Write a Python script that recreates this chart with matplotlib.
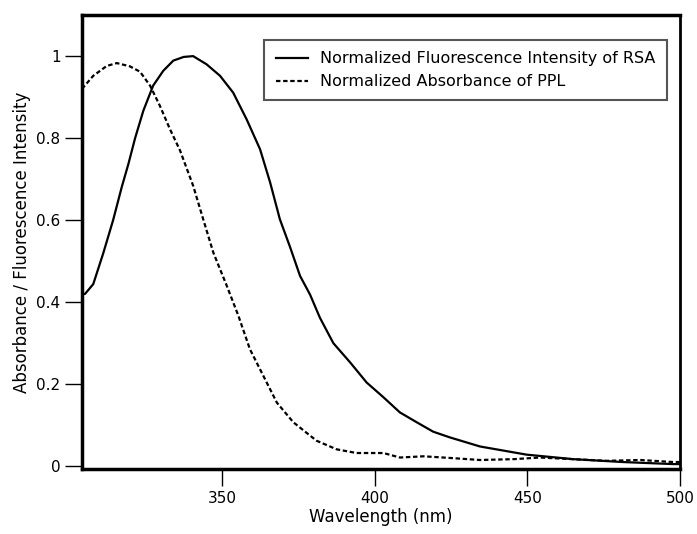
import matplotlib
matplotlib.use("Agg")
import matplotlib.pyplot as plt

# Normalized fluorescence intensity of RSA (solid)
wl_rsa = [304.2, 305.2, 307.9, 311.2, 314.4, 317.2, 319.4, 321.6, 324.3, 327.5, 330.8,
          334.1, 337.5, 340.6, 345.0, 349.4, 353.7, 358.1, 362.5, 365.8, 369.0, 372.3,
          375.6, 378.9, 382.1, 386.5, 392.0, 397.4, 402.9, 408.3, 413.8, 419.2, 424.7,
          434.5, 449.8, 465.1, 481.3, 497.8, 500]
fl_rsa = [0.42, 0.42, 0.444, 0.52, 0.60, 0.68, 0.737, 0.80, 0.867, 0.928, 0.964,
          0.989, 0.998, 1.0, 0.98, 0.952, 0.911, 0.846, 0.773, 0.692, 0.602, 0.535,
          0.464, 0.418, 0.362, 0.30, 0.253, 0.204, 0.168, 0.131, 0.107, 0.084, 0.07,
          0.048, 0.028, 0.017, 0.01, 0.005, 0.005]

# Normalized absorbance of PPL (dashed)
wl_ppl = [304.2, 307.9, 312.3, 315.6, 319.9, 323.2, 326.5, 329.7, 333.0, 336.3, 340.6,
          343.9, 347.2, 351.6, 355.4, 359.2, 363.6, 368.0, 373.4, 381.0, 387.6, 394.1,
          402.9, 408.3, 416.0, 424.7, 434.5, 445.4, 454.2, 465.0, 476.0, 487.0, 497.8, 500]
ab_ppl = [0.92, 0.952, 0.976, 0.983, 0.975, 0.962, 0.928, 0.879, 0.822, 0.77, 0.684,
          0.602, 0.521, 0.44, 0.367, 0.285, 0.22, 0.155, 0.107, 0.062, 0.041, 0.032,
          0.032, 0.021, 0.024, 0.02, 0.015, 0.017, 0.021, 0.017, 0.013, 0.015, 0.01, 0.01]

fig = plt.figure(figsize=(6.97, 5.34), dpi=100)
ax = fig.add_axes([0.1176, 0.1217, 0.858, 0.850])

ax.plot(wl_rsa, fl_rsa, color="black", lw=1.6,
        label="Normalized Fluorescence Intensity of RSA")
ax.plot(wl_ppl, ab_ppl, color="black", lw=1.6, linestyle=(0, (2, 1.2)),
        label="Normalized Absorbance of PPL")

ax.set_xlim(304.2, 500)
ax.set_ylim(-0.007, 1.10)
ax.set_xticks([350, 400, 450, 500])
ax.set_yticks([0, 0.2, 0.4, 0.6, 0.8, 1.0])
ax.set_yticklabels(["0", "0.2", "0.4", "0.6", "0.8", "1"])
ax.tick_params(direction="out", length=12, width=1, labelsize=11)

for side in ["left", "bottom", "top"]:
    ax.spines[side].set_linewidth(2.5)
ax.spines["right"].set_linewidth(2)

ax.set_xlabel("Wavelength (nm)", fontsize=12, labelpad=2)
ax.set_ylabel("Absorbance / Fluorescence Intensity", fontsize=12, labelpad=4)

leg = ax.legend(loc="upper right", bbox_to_anchor=(0.978, 0.945), borderaxespad=0,
                fontsize=11.5, fancybox=False, framealpha=1, edgecolor="#555555",
                handlelength=2.0, handletextpad=0.8, borderpad=0.7, labelspacing=0.5)
leg.get_frame().set_linewidth(1.5)

fig.savefig("out.png", dpi=100)
